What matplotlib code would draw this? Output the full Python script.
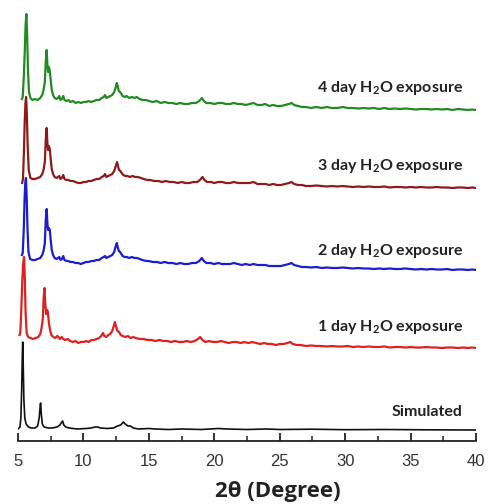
import numpy as np
import matplotlib
matplotlib.use('Agg')
import matplotlib.pyplot as plt
from matplotlib.ticker import MultipleLocator

# XRD patterns: (2theta in degrees, intensity in a.u.)
simulated = [(5.0, 1), (5.15, 3), (5.22, 12), (5.28, 40), (5.33, 75), (5.36, 88), (5.40, 65),
             (5.45, 30), (5.52, 12), (5.62, 6), (5.8, 3), (6.0, 2), (6.3, 2), (6.5, 4),
             (6.62, 12), (6.7, 25), (6.73, 27), (6.78, 16), (6.86, 6), (7.0, 3), (7.3, 2),
             (7.6, 2), (8.0, 3), (8.2, 5), (8.3, 7), (8.41, 9), (8.5, 5), (8.65, 3), (8.9, 2),
             (9.5, 1), (10.2, 1.5), (10.6, 2), (10.9, 3), (11.1, 3), (11.3, 2), (11.8, 1.5),
             (12.3, 2), (12.6, 4), (12.85, 5), (13.05, 8), (13.2, 6), (13.4, 4), (13.6, 4),
             (13.8, 2), (14.2, 1), (15.0, 1.5), (15.5, 1), (16.5, 0.5), (17.5, 1), (19.0, 0.5),
             (20.3, 1.5), (21.0, 1), (22.5, 0.5), (24.0, 1), (25.0, 0.5), (27.5, 0.8),
             (30.0, 0.3), (33.0, 0.5), (36.0, 0.2), (40.0, 0)]

day1 = [(5.12, 13), (5.18, 16), (5.25, 38), (5.32, 65), (5.40, 85), (5.46, 91), (5.52, 70),
        (5.58, 35), (5.66, 15), (5.78, 11), (5.95, 10), (6.15, 9), (6.35, 10), (6.55, 11),
        (6.7, 14), (6.8, 20), (6.9, 30), (6.96, 50), (7.02, 60), (7.08, 45), (7.15, 34),
        (7.22, 38), (7.28, 36), (7.36, 25), (7.45, 18), (7.55, 13), (7.7, 11), (7.85, 10),
        (8.0, 12), (8.1, 11), (8.2, 9), (8.35, 11), (8.45, 9), (8.6, 8), (8.8, 9), (9.0, 7),
        (9.2, 6), (9.4, 7), (9.6, 5), (9.8, 6), (10.0, 6), (10.2, 7), (10.4, 6), (10.6, 8),
        (10.8, 8), (11.0, 9), (11.2, 10), (11.35, 12), (11.5, 15), (11.6, 12), (11.75, 11),
        (11.9, 13), (12.05, 14), (12.2, 17), (12.32, 22), (12.41, 26), (12.5, 21),
        (12.6, 17), (12.72, 16), (12.85, 13), (13.0, 12), (13.2, 11), (13.4, 12), (13.6, 10),
        (13.8, 11), (14.0, 10), (14.3, 9), (14.6, 9), (14.9, 8), (15.2, 8), (15.5, 7),
        (15.8, 8), (16.1, 7), (16.4, 7), (16.7, 6), (17.0, 7), (17.3, 6), (17.6, 6),
        (17.9, 7), (18.2, 6), (18.5, 7), (18.75, 9), (18.92, 11), (19.1, 8), (19.3, 6),
        (19.6, 7), (19.9, 6), (20.2, 6), (20.5, 7), (20.8, 6), (21.1, 5), (21.4, 6),
        (21.7, 6), (22.0, 5), (22.3, 6), (22.6, 5), (22.9, 6), (23.2, 5), (23.5, 4),
        (23.8, 5), (24.1, 4), (24.4, 4), (24.7, 3), (25.0, 4), (25.3, 4), (25.6, 5),
        (25.8, 6), (26.0, 4), (26.3, 3), (26.6, 3), (27.0, 2), (27.4, 2.5), (27.8, 2),
        (28.2, 2), (28.6, 1.5), (29.0, 2), (29.4, 1.5), (29.8, 1.5), (30.2, 2), (30.6, 1),
        (31.0, 1.5), (31.4, 1), (31.8, 1.5), (32.2, 1), (32.6, 1), (33.0, 1.5), (33.4, 0.5),
        (33.8, 1), (34.2, 1), (34.6, 0.5), (35.0, 1), (35.4, 0.5), (35.8, 0.5), (36.2, 1),
        (36.6, 0.5), (37.0, 0.5), (37.4, 0), (37.8, 0.5), (38.2, 0.5), (38.6, 0),
        (39.0, 0.5), (39.4, 0), (39.7, 0.5), (40.0, 0)]

day2 = [(5.30, 15), (5.36, 17), (5.44, 40), (5.50, 70), (5.56, 88), (5.61, 92), (5.67, 70),
        (5.73, 40), (5.80, 18), (5.92, 11), (6.1, 10), (6.3, 10), (6.5, 11), (6.7, 12),
        (6.85, 15), (6.95, 19), (7.05, 27), (7.12, 50), (7.19, 61), (7.25, 46), (7.3, 40),
        (7.36, 42), (7.43, 40), (7.5, 30), (7.58, 20), (7.68, 15), (7.8, 12), (7.95, 11),
        (8.05, 12), (8.15, 13), (8.25, 10), (8.35, 11), (8.46, 14), (8.55, 10), (8.7, 9),
        (8.85, 9), (9.0, 8), (9.2, 8), (9.4, 7), (9.6, 7), (9.8, 6), (10.0, 7), (10.2, 8),
        (10.4, 8), (10.6, 9), (10.8, 9), (11.0, 10), (11.2, 10), (11.4, 12), (11.55, 13),
        (11.65, 14), (11.75, 12), (11.9, 13), (12.05, 14), (12.2, 15), (12.35, 18),
        (12.45, 23), (12.55, 27), (12.62, 23), (12.7, 19), (12.8, 18), (12.9, 16),
        (13.0, 14), (13.15, 13), (13.3, 13), (13.5, 12), (13.7, 13), (13.9, 12), (14.1, 12),
        (14.3, 11), (14.5, 10), (14.8, 9), (15.0, 9), (15.3, 8), (15.6, 8), (15.9, 7),
        (16.2, 8), (16.5, 7), (16.8, 7), (17.1, 6), (17.4, 7), (17.7, 6), (18.0, 6),
        (18.3, 7), (18.6, 7), (18.85, 9), (19.05, 12), (19.2, 9), (19.4, 7), (19.7, 7),
        (20.0, 6), (20.3, 7), (20.6, 6), (20.9, 6), (21.2, 6), (21.5, 7), (21.8, 6),
        (22.1, 5), (22.4, 6), (22.7, 5), (23.0, 6), (23.3, 5), (23.6, 5), (23.9, 5),
        (24.2, 4), (24.5, 4), (24.8, 4), (25.1, 4), (25.4, 5), (25.7, 6), (25.9, 7),
        (26.1, 5), (26.4, 4), (26.7, 3), (27.0, 3), (27.4, 2.5), (27.8, 3), (28.2, 2),
        (28.6, 2.5), (29.0, 2), (29.4, 2), (29.8, 2.5), (30.2, 2), (30.6, 1.5), (31.0, 2),
        (31.4, 1.5), (31.8, 1.5), (32.2, 1), (32.6, 1.5), (33.0, 1), (33.4, 1.5), (33.8, 1),
        (34.2, 1), (34.6, 1.5), (35.0, 1), (35.4, 0.5), (35.8, 1), (36.2, 0.5), (36.6, 1),
        (37.0, 0.5), (37.4, 0.5), (37.8, 1), (38.2, 0), (38.6, 0.5), (39.0, 0.5),
        (39.4, 0), (39.7, 0.5), (40.0, 0)]

day3 = [(5.32, 5), (5.38, 9), (5.45, 35), (5.51, 65), (5.57, 85), (5.62, 91), (5.68, 72),
        (5.74, 42), (5.82, 18), (5.95, 10), (6.1, 9), (6.3, 9), (6.5, 10), (6.7, 11),
        (6.85, 14), (6.95, 18), (7.05, 26), (7.12, 48), (7.19, 60), (7.25, 44), (7.3, 38),
        (7.36, 42), (7.43, 39), (7.5, 29), (7.58, 19), (7.68, 14), (7.8, 11), (7.95, 10),
        (8.05, 11), (8.15, 12), (8.25, 9), (8.35, 10), (8.46, 13), (8.55, 9), (8.7, 8),
        (8.85, 8), (9.0, 7), (9.2, 7), (9.4, 6), (9.6, 5), (9.8, 5), (10.0, 6), (10.2, 6),
        (10.4, 7), (10.6, 7), (10.8, 8), (11.0, 9), (11.2, 9), (11.4, 11), (11.55, 12),
        (11.65, 14), (11.75, 11), (11.9, 12), (12.05, 13), (12.2, 14), (12.35, 17),
        (12.47, 22), (12.57, 26), (12.64, 22), (12.72, 18), (12.82, 17), (12.92, 15),
        (13.05, 13), (13.2, 12), (13.35, 12), (13.55, 11), (13.75, 12), (13.95, 11),
        (14.15, 11), (14.4, 10), (14.6, 9), (14.9, 8), (15.1, 8), (15.4, 7), (15.7, 7),
        (16.0, 6), (16.3, 7), (16.6, 6), (16.9, 6), (17.2, 5), (17.5, 6), (17.8, 5),
        (18.1, 5), (18.4, 6), (18.7, 6), (18.9, 8), (19.1, 11), (19.25, 8), (19.45, 6),
        (19.75, 6), (20.0, 5), (20.3, 6), (20.6, 6), (20.9, 5), (21.2, 5), (21.5, 6),
        (21.8, 5), (22.1, 5), (22.4, 5), (22.7, 5), (23.0, 6), (23.3, 4), (23.6, 4),
        (23.9, 4), (24.2, 3), (24.5, 4), (24.8, 3), (25.1, 3), (25.4, 4), (25.7, 5),
        (25.9, 6), (26.1, 4), (26.4, 3), (26.7, 3), (27.0, 2), (27.4, 2), (27.8, 2.5),
        (28.2, 2), (28.6, 1.5), (29.0, 2), (29.4, 1.5), (29.8, 2), (30.2, 1.5), (30.6, 1),
        (31.0, 1.5), (31.4, 1), (31.8, 1.5), (32.2, 1), (32.6, 1), (33.0, 1.5), (33.4, 0.5),
        (33.8, 1), (34.2, 1), (34.6, 0.5), (35.0, 1), (35.4, 0.5), (35.8, 1), (36.2, 0.5),
        (36.6, 0.5), (37.0, 1), (37.4, 0.5), (37.8, 0.5), (38.2, 0), (38.6, 0.5),
        (39.0, 0.5), (39.4, 0), (39.7, 0.5), (40.0, 0)]

day4 = [(5.30, 11), (5.36, 13), (5.45, 35), (5.52, 60), (5.58, 85), (5.64, 96), (5.70, 75),
        (5.76, 40), (5.84, 18), (5.95, 12), (6.1, 10), (6.3, 11), (6.5, 10), (6.7, 12),
        (6.85, 15), (6.95, 20), (7.05, 28), (7.12, 48), (7.19, 60), (7.25, 45), (7.3, 38),
        (7.36, 43), (7.42, 40), (7.5, 30), (7.58, 20), (7.68, 15), (7.8, 12), (7.95, 11),
        (8.05, 12), (8.15, 14), (8.25, 10), (8.35, 11), (8.46, 14), (8.55, 10), (8.7, 9),
        (8.85, 10), (9.0, 8), (9.2, 9), (9.4, 7), (9.6, 8), (9.8, 7), (10.0, 8), (10.2, 8),
        (10.4, 9), (10.6, 8), (10.8, 9), (11.0, 10), (11.2, 10), (11.4, 12), (11.55, 13),
        (11.65, 15), (11.75, 12), (11.9, 13), (12.05, 14), (12.2, 15), (12.35, 18),
        (12.45, 22), (12.55, 27), (12.62, 24), (12.7, 19), (12.8, 18), (12.9, 16),
        (13.0, 14), (13.15, 13), (13.3, 14), (13.5, 12), (13.7, 13), (13.9, 12), (14.07, 13),
        (14.3, 11), (14.5, 10), (14.8, 10), (15.0, 9), (15.3, 8), (15.6, 9), (15.9, 7),
        (16.2, 8), (16.5, 7), (16.8, 7), (17.1, 6), (17.4, 7), (17.7, 6), (18.0, 6),
        (18.3, 7), (18.6, 7), (18.85, 9), (19.05, 12), (19.2, 9), (19.4, 7), (19.7, 7),
        (20.0, 6), (20.3, 7), (20.6, 7), (20.9, 6), (21.2, 6), (21.5, 7), (21.8, 6),
        (22.1, 6), (22.4, 5), (22.7, 6), (23.0, 7), (23.3, 5), (23.6, 5), (23.9, 6),
        (24.2, 4), (24.5, 5), (24.8, 4), (25.1, 4), (25.4, 5), (25.7, 6), (25.9, 7),
        (26.1, 5), (26.4, 4), (26.7, 3), (27.0, 3), (27.4, 2), (27.8, 3), (28.2, 2),
        (28.6, 3), (29.0, 2), (29.4, 2), (29.8, 3), (30.2, 2), (30.6, 2), (31.0, 1.5),
        (31.4, 2), (31.8, 1.5), (32.2, 2), (32.6, 1), (33.0, 2), (33.4, 1), (33.8, 1.5),
        (34.2, 1), (34.6, 1.5), (35.0, 1), (35.4, 0.5), (35.8, 1), (36.2, 1), (36.6, 0.5),
        (37.0, 1), (37.4, 0.5), (37.8, 1), (38.2, 0), (38.6, 1), (39.0, 0.5), (39.4, 0),
        (39.7, 0.5), (40.0, 0)]

labels = ['Simulated', '1 day H$_\\mathbf{2}$O exposure', '2 day H$_\\mathbf{2}$O exposure',
          '3 day H$_\\mathbf{2}$O exposure', '4 day H$_\\mathbf{2}$O exposure']
colors = ['#111111', '#e02020', '#1c1cd0', '#8e1a1a', '#238a23']
offsets = [11, 93, 171, 253, 331]
label_y = [29, 114, 190, 275, 353]

plt.rcParams['mathtext.fontset'] = 'custom'
plt.rcParams['mathtext.bf'] = 'Lato:bold'
plt.rcParams['mathtext.rm'] = 'Lato:bold'
plt.rcParams['mathtext.default'] = 'bf'

fig = plt.figure(figsize=(4.88, 5.04), dpi=100)
ax = fig.add_axes([18/488., 63/504., 458/488., 436/504.])

data = [simulated, day1, day2, day3, day4]
for k in range(5):
    tt, inten = zip(*data[k])
    lw = 1.2 if k == 0 else 1.6
    ax.plot(tt, np.array(inten) + offsets[k], color=colors[k], lw=lw)
    ax.text(39.0, label_y[k], labels[k], ha='right', va='center',
            fontsize=11.5, family='Lato', fontweight='bold', color='#222222')

ax.set_xlim(5, 40)
ax.set_ylim(0, 436)
for s in ['left', 'top', 'right']:
    ax.spines[s].set_visible(False)
ax.spines['bottom'].set_linewidth(1.3)
ax.spines['bottom'].set_color('#222222')
ax.set_yticks([])
ax.xaxis.set_major_locator(MultipleLocator(5))
ax.xaxis.set_minor_locator(MultipleLocator(2.5))
ax.tick_params(axis='x', which='major', direction='in', length=6, width=1.3,
               color='#222222', pad=9, labelsize=12, labelcolor='#333333')
ax.tick_params(axis='x', which='minor', direction='in', length=3.5, width=1.1,
               color='#222222')
for t in ax.get_xticklabels():
    t.set_family('Liberation Sans')

fig.text(278/488., 1 - 492/504., '2\u03b8 (Degree)', ha='center', va='center',
         fontsize=16, fontweight='bold', family='Open Sans', color='#222222')

plt.savefig('out.png', dpi=100)
